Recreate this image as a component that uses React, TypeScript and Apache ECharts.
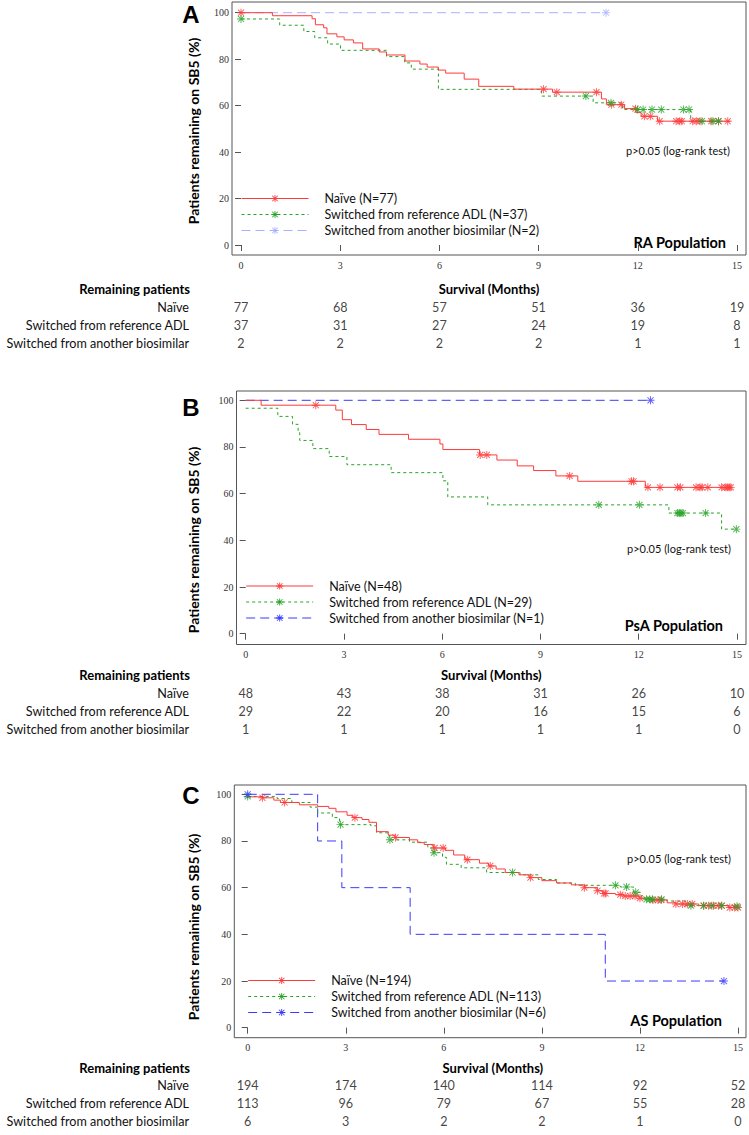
import React, { useEffect, useRef } from "react";
import * as echarts from "echarts";

// ---------- data ----------
const tickMonths = [0, 3, 6, 9, 12, 15];
const yTicks = [0, 20, 40, 60, 80, 100];
const rowLabels = ["Naïve", "Switched from reference ADL", "Switched from another biosimilar"];

// Panel A (RA)
const naiveA = [[0,100],[0.95,98.7],[2.15,97.4],[2.25,94.8],[2.5,93.5],[2.6,90.9],[2.9,89.6],[3.12,88.3],[3.4,87.0],[3.68,84.4],[4.18,83.1],[4.4,81.8],[4.96,79.2],[5.41,77.9],[5.63,76.6],[5.97,75.3],[6.19,74.0],[6.75,71.4],[7.19,68.3],[8.25,67.1],[9.42,65.8],[10.9,62.9],[11.05,60.4],[11.6,58.7],[11.95,57.0],[12.1,55.4],[12.6,53.3],[14.8,53.3]];
const naiveACens = [[0,100],[9.15,67.1],[9.55,65.8],[10.75,65.8],[11.2,60.4],[11.5,60.4],[11.93,58.7],[12.2,55.4],[12.38,55.4],[12.66,53.3],[13.16,53.3],[13.27,53.3],[13.33,53.3],[13.66,53.3],[13.77,53.3],[13.88,53.3],[14.22,53.3],[14.44,53.3],[14.72,53.3]];
const adlA = [[0,97.3],[1.17,94.6],[1.9,91.9],[2.23,89.2],[2.62,86.5],[3.01,83.8],[4.4,81.1],[4.95,78.4],[5.15,75.7],[5.97,67.0],[9.09,64.1],[10.65,61.2],[11.54,58.3],[13.6,53.3],[14.5,53.3]];
const adlACens = [[0,97.3],[10.43,64.1],[11.19,61.2],[11.99,58.3],[12.16,58.3],[12.43,58.3],[12.71,58.3],[13.38,58.3],[13.55,58.3],[13.94,53.3],[14.27,53.3],[14.44,53.3]];
const bioA = [[0,100],[11.04,100]];
const bioACens = [[11.04,100]];
const remainA = [[77,68,57,51,36,19],[37,31,27,24,19,8],[2,2,2,2,1,1]];

// Panel B (PsA)
const naiveB = [[0,100],[0.47,97.9],[2.75,95.8],[2.95,91.7],[3.23,89.6],[3.68,87.5],[4.07,85.4],[4.97,83.3],[5.93,81.3],[6.02,78.9],[7.14,76.6],[7.67,74.4],[8.29,71.9],[8.79,69.9],[9.47,67.6],[10.14,65.3],[12.2,62.7],[14.83,62.7]];
const naiveBCens = [[2.14,97.9],[7.16,76.6],[7.36,76.6],[9.89,67.6],[11.78,65.3],[11.84,65.3],[12.28,62.7],[12.65,62.7],[13.18,62.7],[13.27,62.7],[13.75,62.7],[13.87,62.7],[13.93,62.7],[14.11,62.7],[14.53,62.7],[14.64,62.7],[14.7,62.7],[14.76,62.7],[14.81,62.7]];
const adlB = [[0,96.6],[0.98,93.1],[1.43,89.7],[1.6,86.2],[1.65,82.8],[2.05,79.3],[2.55,75.9],[3.09,72.4],[4.44,69.0],[6.02,65.5],[6.17,58.6],[7.39,55.2],[12.92,51.7],[14.53,44.8],[14.98,44.8]];
const adlBCens = [[10.78,55.2],[12.02,55.2],[13.18,51.7],[13.24,51.7],[13.29,51.7],[13.35,51.7],[14.04,51.7],[14.98,44.8]];
const bioB = [[0,100],[12.36,100]];
const bioBCens = [[12.36,100]];
const remainB = [[48,43,38,31,26,10],[29,22,20,16,15,6],[1,1,1,1,1,0]];

// Panel C (AS)
const naiveC = [[0,98.9],[0.45,98.5],[0.8,97.5],[1.0,96.5],[1.58,95.5],[2.14,94.8],[2.48,94.0],[2.7,92.5],[3.04,91.0],[3.2,90.0],[3.5,89.2],[3.71,88.0],[3.94,84.0],[4.3,82.5],[4.5,81.5],[4.95,80.5],[5.2,79.3],[5.4,78.5],[5.68,77.0],[6.05,76.0],[6.3,74.0],[6.64,72.0],[7.09,70.5],[7.37,69.3],[7.6,68.0],[7.88,66.5],[8.3,65.5],[8.61,64.3],[9.0,63.0],[9.45,62.0],[9.9,61.2],[10.3,60.0],[10.69,58.7],[10.86,57.5],[11.25,57.0],[11.5,56.4],[11.98,55.5],[12.3,54.7],[12.83,53.5],[13.1,53.0],[13.8,52.3],[14.7,51.5],[15.02,51.5]];
const naiveCCens = [[0.45,98.5],[1.13,96.5],[3.28,90.0],[4.52,81.5],[5.72,77.0],[5.98,77.0],[6.72,72.0],[7.42,69.3],[8.65,64.3],[10.3,60.0],[10.7,58.7],[10.9,57.5],[10.95,57.5],[11.4,57.0],[11.55,56.4],[11.7,56.4],[11.85,56.4],[12.0,55.5],[12.4,54.7],[12.55,54.7],[12.65,54.7],[13.1,53.0],[13.3,53.0],[13.45,53.0],[13.6,53.0],[13.95,52.3],[14.1,52.3],[14.25,52.3],[14.4,52.3],[14.5,52.3],[14.75,51.5],[14.9,51.5],[15.0,51.5]];
const adlC = [[0,99.1],[0.9,98.2],[1.35,96.5],[1.91,94.5],[2.14,92.0],[2.59,90.0],[2.81,87.0],[3.77,86.5],[3.94,83.5],[4.33,80.5],[4.95,79.5],[5.51,77.0],[5.68,75.0],[5.96,73.0],[6.08,70.0],[6.53,68.5],[7.31,66.5],[8.33,65.5],[8.89,63.5],[9.45,62.0],[10.02,61.0],[11.4,60.3],[11.8,58.0],[12.04,56.0],[12.15,55.0],[12.83,54.3],[13.4,52.3],[14.8,52.0],[15.0,52.0]];
const adlCCens = [[0,99.1],[2.84,87.0],[4.35,80.5],[5.7,75.0],[8.1,66.5],[11.25,61.0],[11.59,60.3],[11.87,58.0],[12.2,55.0],[12.3,55.0],[12.38,55.0],[12.66,55.0],[13.56,52.3],[13.95,52.3],[14.2,52.3],[14.5,52.3],[14.97,52.0]];
const bioC = [[0,100],[2.14,80],[2.88,60],[4.97,40],[10.94,20],[14.57,20]];
const bioCCens = [[0,100],[14.57,20]];
const remainC = [[194,174,140,114,92,52],[113,96,79,67,55,28],[6,3,2,2,1,0]];

const namesA = ["Naïve (N=77)", "Switched from reference ADL (N=37)", "Switched from another biosimilar (N=2)"];
const namesB = ["Naïve (N=48)", "Switched from reference ADL (N=29)", "Switched from another biosimilar (N=1)"];
const namesC = ["Naïve (N=194)", "Switched from reference ADL (N=113)", "Switched from another biosimilar (N=6)"];

// ---------- styling / layout ----------
const ASTERISK =
  "path://M4.4 0H5.6V10H4.4Z M0 4.4H10V5.6H0Z M1.624 0.776L9.224 8.376L8.376 9.224L0.776 1.624Z M9.224 1.624L1.624 9.224L0.776 8.376L8.376 0.776Z";
const SANS = "Lato, 'Noto Sans', sans-serif";
const SERIF = "'Liberation Serif', 'DejaVu Serif', serif";

const panels = [
  {
    letter: "A", pop: "RA Population", names: namesA,
    curves: [naiveA, adlA, bioA], cens: [naiveACens, adlACens, bioACens], remain: remainA,
    colors: ["#ff3a3a", "#27a427", "#aab0ff"],
    l: 232, r: 746, t: 2, b: 255, x0: 241, x15: 737, y100: 12.7, y0: 245,
    letterY: 14,
    legendY: 198.5, pY: 150, pR: 730, popY: 242, popR: 726, titleY: 131,
    headY: 289, rowY: 307,
  },
  {
    letter: "B", pop: "PsA Population", names: namesB,
    curves: [naiveB, adlB, bioB], cens: [naiveBCens, adlBCens, bioBCens], remain: remainB,
    colors: ["#ff3a3a", "#27a427", "#3a3aff"],
    l: 236.5, r: 746, t: 391, b: 644.5, x0: 245.7, x15: 737, y100: 400.3, y0: 633.7,
    letterY: 407,
    legendY: 586, pY: 548, pR: 731, popY: 625, popR: 723, titleY: 540,
    headY: 675, rowY: 693,
  },
  {
    letter: "C", pop: "AS Population", names: namesC,
    curves: [naiveC, adlC, bioC], cens: [naiveCCens, adlCCens, bioCCens], remain: remainC,
    colors: ["#ff3a3a", "#27a427", "#3a3aff"],
    l: 234.3, r: 746, t: 785, b: 1037.7, x0: 247.7, x15: 738, y100: 794.3, y0: 1027.7,
    letterY: 795,
    legendY: 980.5, pY: 858.6, pR: 731, popY: 1020, popR: 722, titleY: 927,
    headY: 1068, rowY: 1085.5,
  },
];

const lineTypes: any[] = ["solid", [3, 3], [9, 5]];

function buildOption() {
  const grid: any[] = [];
  const xAxis: any[] = [];
  const yAxis: any[] = [];
  const series: any[] = [];
  const legend: any[] = [];
  const graphic: any[] = [];
  const rowPitch = 18;

  panels.forEach((p) => {
    const pxX = (p.x15 - p.x0) / 15;
    const pxY = (p.y0 - p.y100) / 100;
    const xMin = -(p.x0 - p.l) / pxX;
    const xMax = 15 + (p.r - p.x15) / pxX;
    const yMin = -(p.b - p.y0) / pxY;
    const yMax = 100 + (p.y100 - p.t) / pxY;

    // plot grid
    const gi = grid.length;
    grid.push({
      left: p.l, top: p.t, width: p.r - p.l, height: p.b - p.t,
      show: true, borderColor: "#555", borderWidth: 1, backgroundColor: "transparent",
    });
    xAxis.push({
      gridIndex: gi, type: "value", min: xMin, max: xMax,
      splitLine: { show: false }, axisLine: { show: false },
      axisTick: { show: true, length: 6, customValues: tickMonths, lineStyle: { color: "#555" } },
      axisLabel: { customValues: tickMonths, margin: 5, fontFamily: SERIF, fontSize: 10, color: "#333" },
    });
    yAxis.push({
      gridIndex: gi, type: "value", min: yMin, max: yMax,
      splitLine: { show: false }, axisLine: { show: false },
      axisTick: { show: true, length: 6, customValues: yTicks, lineStyle: { color: "#555" } },
      axisLabel: { customValues: yTicks, margin: 3, fontFamily: SERIF, fontSize: 10, color: "#333" },
    });

    p.curves.forEach((c, k) => {
      series.push({
        type: "line", name: p.names[k], xAxisIndex: gi, yAxisIndex: gi,
        data: c, step: "end", showSymbol: false, symbol: ASTERISK, symbolSize: 8,
        color: p.colors[k],
        lineStyle: { color: p.colors[k], width: 1, type: lineTypes[k] },
        itemStyle: { color: p.colors[k] },
        z: 3 - k,
      });
      series.push({
        type: "scatter", name: p.names[k] + " censored", xAxisIndex: gi, yAxisIndex: gi,
        data: p.cens[k], symbol: ASTERISK, symbolSize: 8,
        itemStyle: { color: p.colors[k] }, z: 4,
      });
    });

    legend.push({
      orient: "vertical", left: p.x0, top: p.legendY - 7, padding: 0,
      itemWidth: 67, itemHeight: 9, itemGap: 2, selectedMode: false,
      data: p.names,
      lineStyle: { width: 1 },
      textStyle: { fontFamily: SANS, fontSize: 12.5, lineHeight: 14, color: "#111", padding: [0, 0, 0, 11] },
    });

    // table grid (remaining patients)
    const ti = grid.length;
    grid.push({
      left: p.l, top: p.rowY - rowPitch / 2, width: p.r - p.l, height: rowPitch * 3,
    });
    xAxis.push({
      gridIndex: ti, type: "value", min: xMin, max: xMax, show: false,
    });
    yAxis.push({
      gridIndex: ti, type: "category", data: rowLabels, inverse: true,
      axisLine: { show: false }, axisTick: { show: false }, splitLine: { show: false },
      axisLabel: { margin: p.l - 189, fontFamily: SANS, fontSize: 12.6, color: "#111" },
    });
    const cells: any[] = [];
    p.remain.forEach((row, r) => {
      row.forEach((v, c) => cells.push([tickMonths[c], rowLabels[r], v]));
    });
    series.push({
      type: "scatter", xAxisIndex: ti, yAxisIndex: ti, data: cells,
      symbolSize: 1, itemStyle: { color: "rgba(0,0,0,0)" }, silent: true,
      label: {
        show: true, position: "inside", formatter: (q: any) => String(q.value[2]),
        fontFamily: SANS, fontSize: 12.6, color: "#111",
      },
    });

    // texts
    graphic.push(
      { type: "text", x: 191, y: p.letterY, style: { text: p.letter, fontFamily: "'Liberation Sans', Arial, sans-serif", fontWeight: "bold", fontSize: 24, fill: "#000", textAlign: "center", textVerticalAlign: "middle" } },
      { type: "text", x: 193, y: p.titleY, rotation: Math.PI / 2, style: { text: "Patients remaining on SB5 (%)", fontFamily: SANS, fontWeight: "bold", fontSize: 14, fill: "#000", textAlign: "center", textVerticalAlign: "middle" } },
      { type: "text", x: p.pR, y: p.pY, style: { text: "p>0.05 (log-rank test)", fontFamily: SANS, fontSize: 11, fill: "#111", textAlign: "right", textVerticalAlign: "middle" } },
      { type: "text", x: p.popR, y: p.popY, style: { text: p.pop, fontFamily: SANS, fontWeight: "bold", fontSize: 14.5, fill: "#000", textAlign: "right", textVerticalAlign: "middle" } },
      { type: "text", x: (p.x0 + p.x15) / 2, y: p.headY, style: { text: "Survival (Months)", fontFamily: SANS, fontWeight: "bold", fontSize: 13, fill: "#000", textAlign: "center", textVerticalAlign: "middle" } },
      { type: "text", x: 190, y: p.headY, style: { text: "Remaining patients", fontFamily: SANS, fontWeight: "bold", fontSize: 13, fill: "#000", textAlign: "right", textVerticalAlign: "middle" } },
    );
  });

  return {
    animation: false,
    backgroundColor: "#fff",
    grid, xAxis, yAxis, series, legend, graphic,
  };
}

export default function App() {
  const ref = useRef<HTMLDivElement>(null);
  useEffect(() => {
    if (!ref.current) return;
    const chart = echarts.init(ref.current, undefined, { renderer: "svg" });
    chart.setOption(buildOption() as any);
    return () => chart.dispose();
  }, []);
  return (
    <div
      ref={ref}
      style={{ position: "absolute", left: 0, top: 0, width: 749, height: 1135, background: "#fff" }}
    />
  );
}
